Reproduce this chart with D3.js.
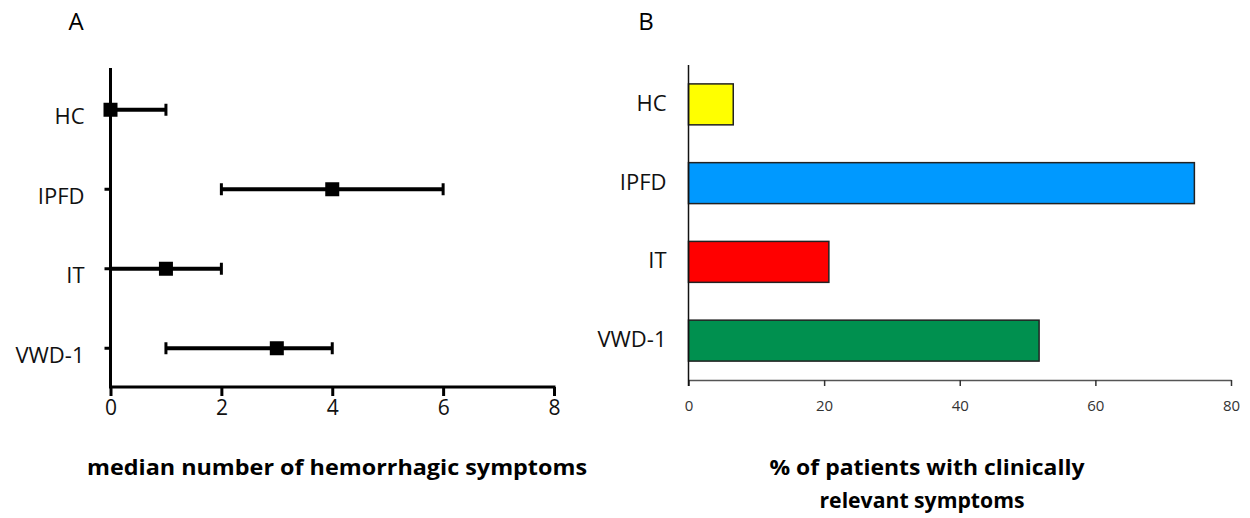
<!DOCTYPE html>
<html>
<head>
<meta charset="utf-8">
<script src="https://cdn.jsdelivr.net/npm/d3@7"></script>
<style>
  body { margin: 0; background: #fff; }
  text { font-family: "Open Sans", "Noto Sans", sans-serif; }
</style>
</head>
<body>
<div id="chart"></div>
<script>
"use strict"

// data
const groups = ["HC", "IPFD", "IT", "VWD-1"];
const medians = [0, 4, 1, 3];
const lowQ = [0, 2, 0, 1];
const highQ = [1, 6, 2, 4];
const percents = [6.6, 74.6, 20.7, 51.7];
const barColors = ["#ffff00", "#0099ff", "#ff0000", "#00904f"];
const ticksA = [0, 2, 4, 6, 8];
const ticksB = [0, 20, 40, 60, 80];

const width = 1250,
    height = 518;

const svg = d3.select("#chart").append("svg")
    .attr("width", width)
    .attr("height", height);

// ---------- panel A ----------
const ax = d3.scaleLinear().domain([0, 8]).range([110.5, 554]);
const ay = d3.scaleBand().domain(groups).range([70, 388]);

svg.append("text")
    .attr("x", 76).attr("y", 30)
    .attr("text-anchor", "middle")
    .style("font-size", "24px")
    .text("A");

const gA = svg.append("g");

const xAxisA = gA.append("g")
    .attr("transform", "translate(0,387)")
    .call(d3.axisBottom(ax).tickValues(ticksA).tickSize(9).tickSizeOuter(0).tickPadding(4));
xAxisA.select(".domain").attr("stroke-width", 3.2).attr("d", "M" + (ax(0) - 1.5) + ",0H" + (ax(8) + 1.5));
xAxisA.selectAll(".tick line").attr("stroke-width", 3);
xAxisA.selectAll(".tick text").style("font-size", "21px").attr("fill", "#111");

const yAxisA = gA.append("g")
    .attr("transform", "translate(" + ax(0) + ",0)")
    .call(d3.axisLeft(ay).tickSize(6).tickSizeOuter(0).tickPadding(20));
yAxisA.select(".domain").attr("stroke-width", 3).attr("d", "M0,68V388");
yAxisA.selectAll(".tick line").attr("stroke-width", 3);
yAxisA.selectAll(".tick text").style("font-size", "22px").attr("fill", "#111").attr("dy", "0.65em");

// error bars
const eb = gA.selectAll("g.eb").data(groups).enter().append("g")
    .attr("transform", d => "translate(0," + (ay(d) + ay.bandwidth() / 2) + ")");
eb.append("line")
    .attr("x1", (d, i) => ax(lowQ[i])).attr("x2", (d, i) => ax(highQ[i]))
    .attr("stroke", "#000").attr("stroke-width", 4);
eb.append("line")
    .attr("x1", (d, i) => ax(lowQ[i])).attr("x2", (d, i) => ax(lowQ[i]))
    .attr("y1", -6).attr("y2", 6)
    .attr("stroke", "#000").attr("stroke-width", 3);
eb.append("line")
    .attr("x1", (d, i) => ax(highQ[i])).attr("x2", (d, i) => ax(highQ[i]))
    .attr("y1", -6).attr("y2", 6)
    .attr("stroke", "#000").attr("stroke-width", 3);
eb.append("rect")
    .attr("x", (d, i) => ax(medians[i]) - 7).attr("y", -7)
    .attr("width", 14).attr("height", 14)
    .attr("fill", "#000");

svg.append("text")
    .attr("x", 337).attr("y", 475)
    .attr("text-anchor", "middle")
    .attr("textLength", 500).attr("lengthAdjust", "spacingAndGlyphs")
    .style("font-size", "21px").style("font-weight", "bold")
    .text("median number of hemorrhagic symptoms");

// ---------- panel B ----------
const bx = d3.scaleLinear().domain([0, 80]).range([688.5, 1231]);
const by = d3.scaleBand().domain(groups).range([65, 380]).paddingInner(0.48).paddingOuter(0.24);

svg.append("text")
    .attr("x", 646).attr("y", 30)
    .attr("text-anchor", "middle")
    .style("font-size", "24px")
    .text("B");

const gB = svg.append("g");

gB.selectAll("rect.bar").data(groups).enter().append("rect")
    .attr("class", "bar")
    .attr("x", bx(0))
    .attr("y", d => by(d))
    .attr("width", (d, i) => bx(percents[i]) - bx(0))
    .attr("height", by.bandwidth())
    .attr("fill", (d, i) => barColors[i])
    .attr("stroke", "#222")
    .attr("stroke-width", 1.5);

const xAxisB = gB.append("g")
    .attr("transform", "translate(0,380)")
    .call(d3.axisBottom(bx).tickValues(ticksB).tickSize(6).tickSizeOuter(0).tickPadding(14));
xAxisB.select(".domain").attr("stroke", "#555").attr("stroke-width", 1.5);
xAxisB.selectAll(".tick line").attr("stroke", "#333").attr("stroke-width", 1.5);
xAxisB.selectAll(".tick text").style("font-size", "15px").attr("fill", "#333");

const yAxisB = gB.append("g")
    .attr("transform", "translate(" + bx(0) + ",0)")
    .call(d3.axisLeft(by).tickSize(0).tickSizeOuter(0).tickPadding(22));
yAxisB.select(".domain").attr("stroke", "#111").attr("stroke-width", 1.5).attr("d", "M0,65V386");
yAxisB.selectAll(".tick text").style("font-size", "22px").attr("fill", "#111").attr("dy", "0.3em");

const titleB = svg.append("text")
    .attr("text-anchor", "middle")
    .style("font-size", "21px").style("font-weight", "bold");
titleB.append("tspan").attr("x", 927).attr("y", 475)
    .attr("textLength", 315).attr("lengthAdjust", "spacingAndGlyphs")
    .text("% of patients with clinically");
titleB.append("tspan").attr("x", 922).attr("y", 508)
    .attr("textLength", 205).attr("lengthAdjust", "spacingAndGlyphs")
    .text("relevant symptoms");
</script>
</body>
</html>
